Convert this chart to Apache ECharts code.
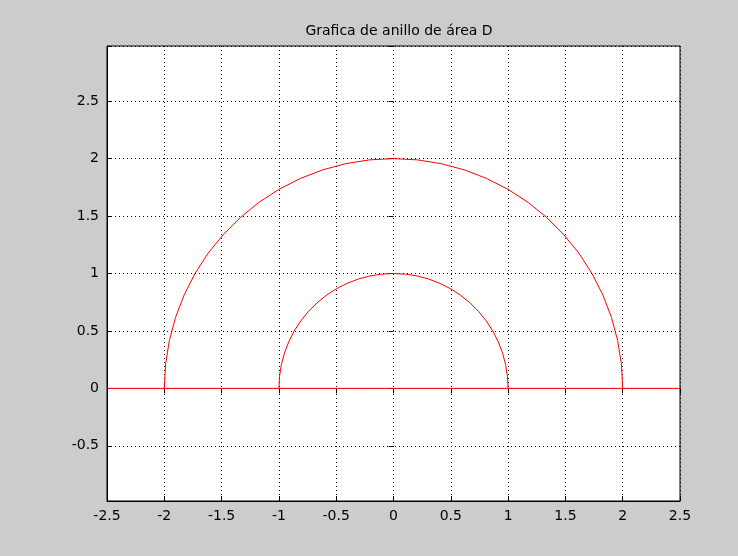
<!DOCTYPE html>
<html>
<head>
<meta charset="utf-8">
<title>Grafica de anillo de área D</title>
<script src="https://cdn.jsdelivr.net/npm/echarts@6/dist/echarts.min.js"></script>
<style>
  html, body { margin: 0; padding: 0; background: #cccccc; }
  #chart { width: 738px; height: 556px; }
</style>
</head>
<body>
<div id="chart"></div>
<script>
// semicircle of radius 1 (points read every 6 degrees)
const innerArc = [
  [-1, 0], [-0.9945, 0.1045], [-0.9781, 0.2079], [-0.9511, 0.309], [-0.9135, 0.4067],
  [-0.866, 0.5], [-0.809, 0.5878], [-0.7431, 0.6691], [-0.6691, 0.7431], [-0.5878, 0.809],
  [-0.5, 0.866], [-0.4067, 0.9135], [-0.309, 0.9511], [-0.2079, 0.9781], [-0.1045, 0.9945],
  [0, 1],
  [0.1045, 0.9945], [0.2079, 0.9781], [0.309, 0.9511], [0.4067, 0.9135], [0.5, 0.866],
  [0.5878, 0.809], [0.6691, 0.7431], [0.7431, 0.6691], [0.809, 0.5878], [0.866, 0.5],
  [0.9135, 0.4067], [0.9511, 0.309], [0.9781, 0.2079], [0.9945, 0.1045], [1, 0]
]

// semicircle of radius 2
const outerArc = [
  [-2, 0], [-1.989, 0.209], [-1.956, 0.416], [-1.902, 0.618], [-1.827, 0.813],
  [-1.732, 1], [-1.618, 1.176], [-1.486, 1.338], [-1.338, 1.486], [-1.176, 1.618],
  [-1, 1.732], [-0.813, 1.827], [-0.618, 1.902], [-0.416, 1.956], [-0.209, 1.989],
  [0, 2],
  [0.209, 1.989], [0.416, 1.956], [0.618, 1.902], [0.813, 1.827], [1, 1.732],
  [1.176, 1.618], [1.338, 1.486], [1.486, 1.338], [1.618, 1.176], [1.732, 1],
  [1.827, 0.813], [1.902, 0.618], [1.956, 0.416], [1.989, 0.209], [2, 0]
]

// eje horizontal y = 0
const baseLine = [[-2.5, 0], [2.5, 0]]

const xRange = [-2.5, 2.5]
const yRange = [-0.98, 2.98]

const fontFamily = 'DejaVu Sans, Arial, sans-serif'

const chart = echarts.init(document.getElementById('chart'))

const gridLine = { show: true, lineStyle: { color: '#000', width: 1, type: [1, 3] } }
const tickIn = { show: true, inside: true, length: 5, lineStyle: { color: '#000' } }

// hide the labels that are not on a 0.5 step (range ends)
const yLabel = (v) => {
  const r = Math.round(v * 2) / 2
  return Math.abs(r - v) < 1e-6 ? String(r) : ''
}

chart.setOption({
  backgroundColor: '#cccccc',
  animation: false,
  title: {
    text: 'Grafica de anillo de área D',
    left: 394,
    top: 19,
    textAlign: 'center',
    textStyle: { fontFamily, fontSize: 14, fontWeight: 'normal', color: '#000' }
  },
  grid: {
    left: 107, right: 58, top: 46, bottom: 55,
    show: true, backgroundColor: '#fff', borderColor: '#000', borderWidth: 1
  },
  xAxis: [
    {
      type: 'value', min: xRange[0], max: xRange[1], interval: 0.5,
      axisLine: { show: true, onZero: false, lineStyle: { color: '#000' } },
      axisTick: tickIn,
      axisLabel: { margin: 8, color: '#000', fontFamily, fontSize: 14 },
      splitLine: gridLine
    },
    {
      type: 'value', position: 'top', min: xRange[0], max: xRange[1], interval: 0.5,
      axisLine: { show: false }, axisTick: tickIn, axisLabel: { show: false },
      splitLine: { show: false }
    }
  ],
  yAxis: [
    {
      type: 'value', min: yRange[0], max: yRange[1], splitNumber: 8,
      axisLine: { show: true, onZero: false, lineStyle: { color: '#000' } },
      axisTick: tickIn,
      axisLabel: { margin: 8, color: '#000', fontFamily, fontSize: 14, formatter: yLabel },
      splitLine: gridLine
    },
    {
      type: 'value', position: 'right', min: yRange[0], max: yRange[1], splitNumber: 8,
      axisLine: { show: false }, axisTick: tickIn, axisLabel: { show: false },
      splitLine: { show: false }
    }
  ],
  series: [
    { type: 'line', data: baseLine, showSymbol: false, lineStyle: { color: '#ff0000', width: 1 } },
    { type: 'line', data: innerArc, showSymbol: false, lineStyle: { color: '#ff0000', width: 1 } },
    { type: 'line', data: outerArc, showSymbol: false, lineStyle: { color: '#ff0000', width: 1 } }
  ]
})
</script>
</body>
</html>
